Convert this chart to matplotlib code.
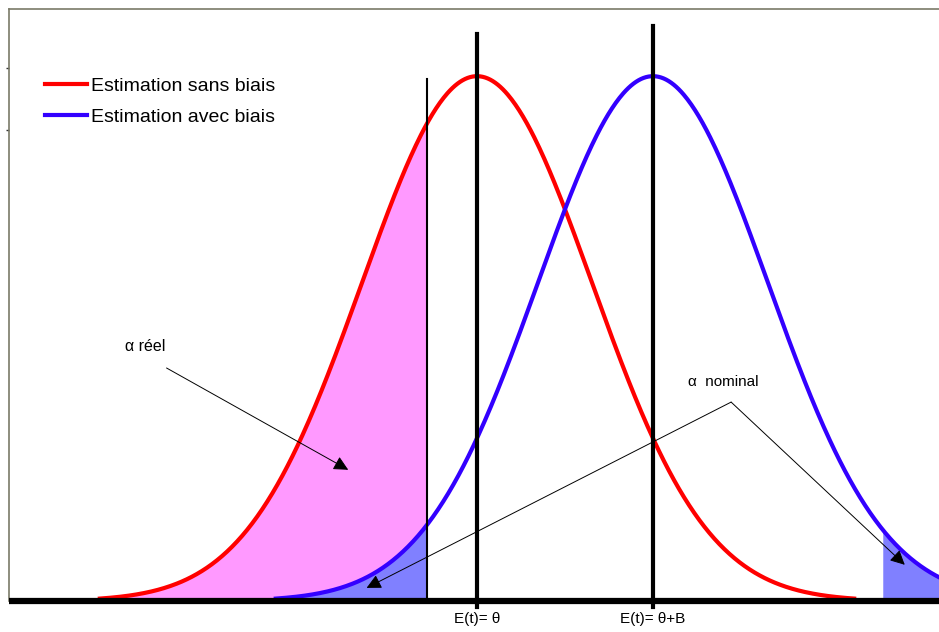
import matplotlib.pyplot as plt
import numpy as np

plt.rcParams['font.family'] = ['Liberation Sans', 'DejaVu Sans']

# parameters (x in sigma units, y as fraction of the peak)
mu_sans = 0.0
mu_biais = 1.53
sigma = 1.0
half_range = 3.28          # curves drawn over mean +/- this
x_crit_left = -0.435       # thin vertical line / left shaded tails
x_crit_right = 3.52        # right shaded tail of the biased curve
tick_pos = [mu_sans, mu_biais]
tick_labels = ['E(t)= θ', 'E(t)= θ+B']
legend_labels = ['Estimation sans biais', 'Estimation avec biais']


def bell(x, mu):
    return np.exp(-0.5 * ((x - mu) / sigma) ** 2)


W, H = 939, 632
fig = plt.figure(figsize=(W / 100, H / 100), dpi=100)
# axes box in pixels: left 9, top 9, bottom 601, right beyond the image
ax = fig.add_axes([9 / W, (H - 601) / H, (945 - 9) / W, (601 - 9) / H])
ax.set_xlim(-4.07, 4.07)
ax.set_ylim(0, 1.128)

x1 = np.linspace(mu_sans - half_range, mu_sans + half_range, 600)
x2 = np.linspace(mu_biais - half_range, mu_biais + half_range, 600)

# shaded areas
xa = x1[x1 <= x_crit_left]
ax.fill_between(xa, bell(xa, mu_sans), color='#ff99ff', lw=0)
xb = x2[x2 <= x_crit_left]
ax.fill_between(xb, bell(xb, mu_biais), color='#8080ff', lw=0)
xc = x2[x2 >= x_crit_right]
ax.fill_between(xc, bell(xc, mu_biais), color='#8080ff', lw=0)

# curves
ax.plot(x1, bell(x1, mu_sans), color='#ff0000', lw=3, label=legend_labels[0])
ax.plot(x2, bell(x2, mu_biais), color='#3300ff', lw=3, label=legend_labels[1])

# vertical lines
ax.plot([x_crit_left, x_crit_left], [0, 0.994], color='black', lw=1.5)
ax.plot([mu_sans, mu_sans], [-0.012, 1.08], color='black', lw=3, clip_on=False)
ax.plot([mu_biais, mu_biais], [-0.012, 1.095], color='black', lw=3, clip_on=False)

# annotations
arrow = dict(arrowstyle='-|>', color='black', lw=0.7,
             mutation_scale=22, shrinkA=0, shrinkB=0)
ax.text(-3.06, 0.484, 'α réel', fontsize=11.5, va='center', ha='left')
ax.annotate('', xy=(-1.12, 0.25), xytext=(-2.70, 0.444), arrowprops=arrow)
ax.text(1.835, 0.417, 'α  nominal', fontsize=11, va='center', ha='left')
vertex = (2.21, 0.379)
ax.annotate('', xy=(-0.96, 0.025), xytext=vertex, arrowprops=arrow)
ax.annotate('', xy=(3.72, 0.069), xytext=vertex, arrowprops=arrow)

# axes styling
for side in ['top', 'left', 'right']:
    ax.spines[side].set_color('#7a7a68')
    ax.spines[side].set_linewidth(1.2)
ax.spines['bottom'].set_color('black')
ax.spines['bottom'].set_linewidth(4.5)
ax.spines['bottom'].set_capstyle('butt')
ax.spines['bottom'].set_zorder(5)
ax.set_xticks(tick_pos)
ax.set_xticklabels(tick_labels, fontsize=11)
ax.tick_params(axis='x', length=0, pad=8)
ax.set_yticks([0.897, 1.015])
ax.set_yticklabels([])
ax.tick_params(axis='y', length=2, width=1, color='#333333')

ax.legend(loc='upper left', bbox_to_anchor=(0.038, 0.884), frameon=False,
          fontsize=14, handlelength=2.2, handletextpad=0.2,
          labelspacing=0.66, borderpad=0, borderaxespad=0)

plt.savefig('out.png', dpi=100)
plt.close(fig)
